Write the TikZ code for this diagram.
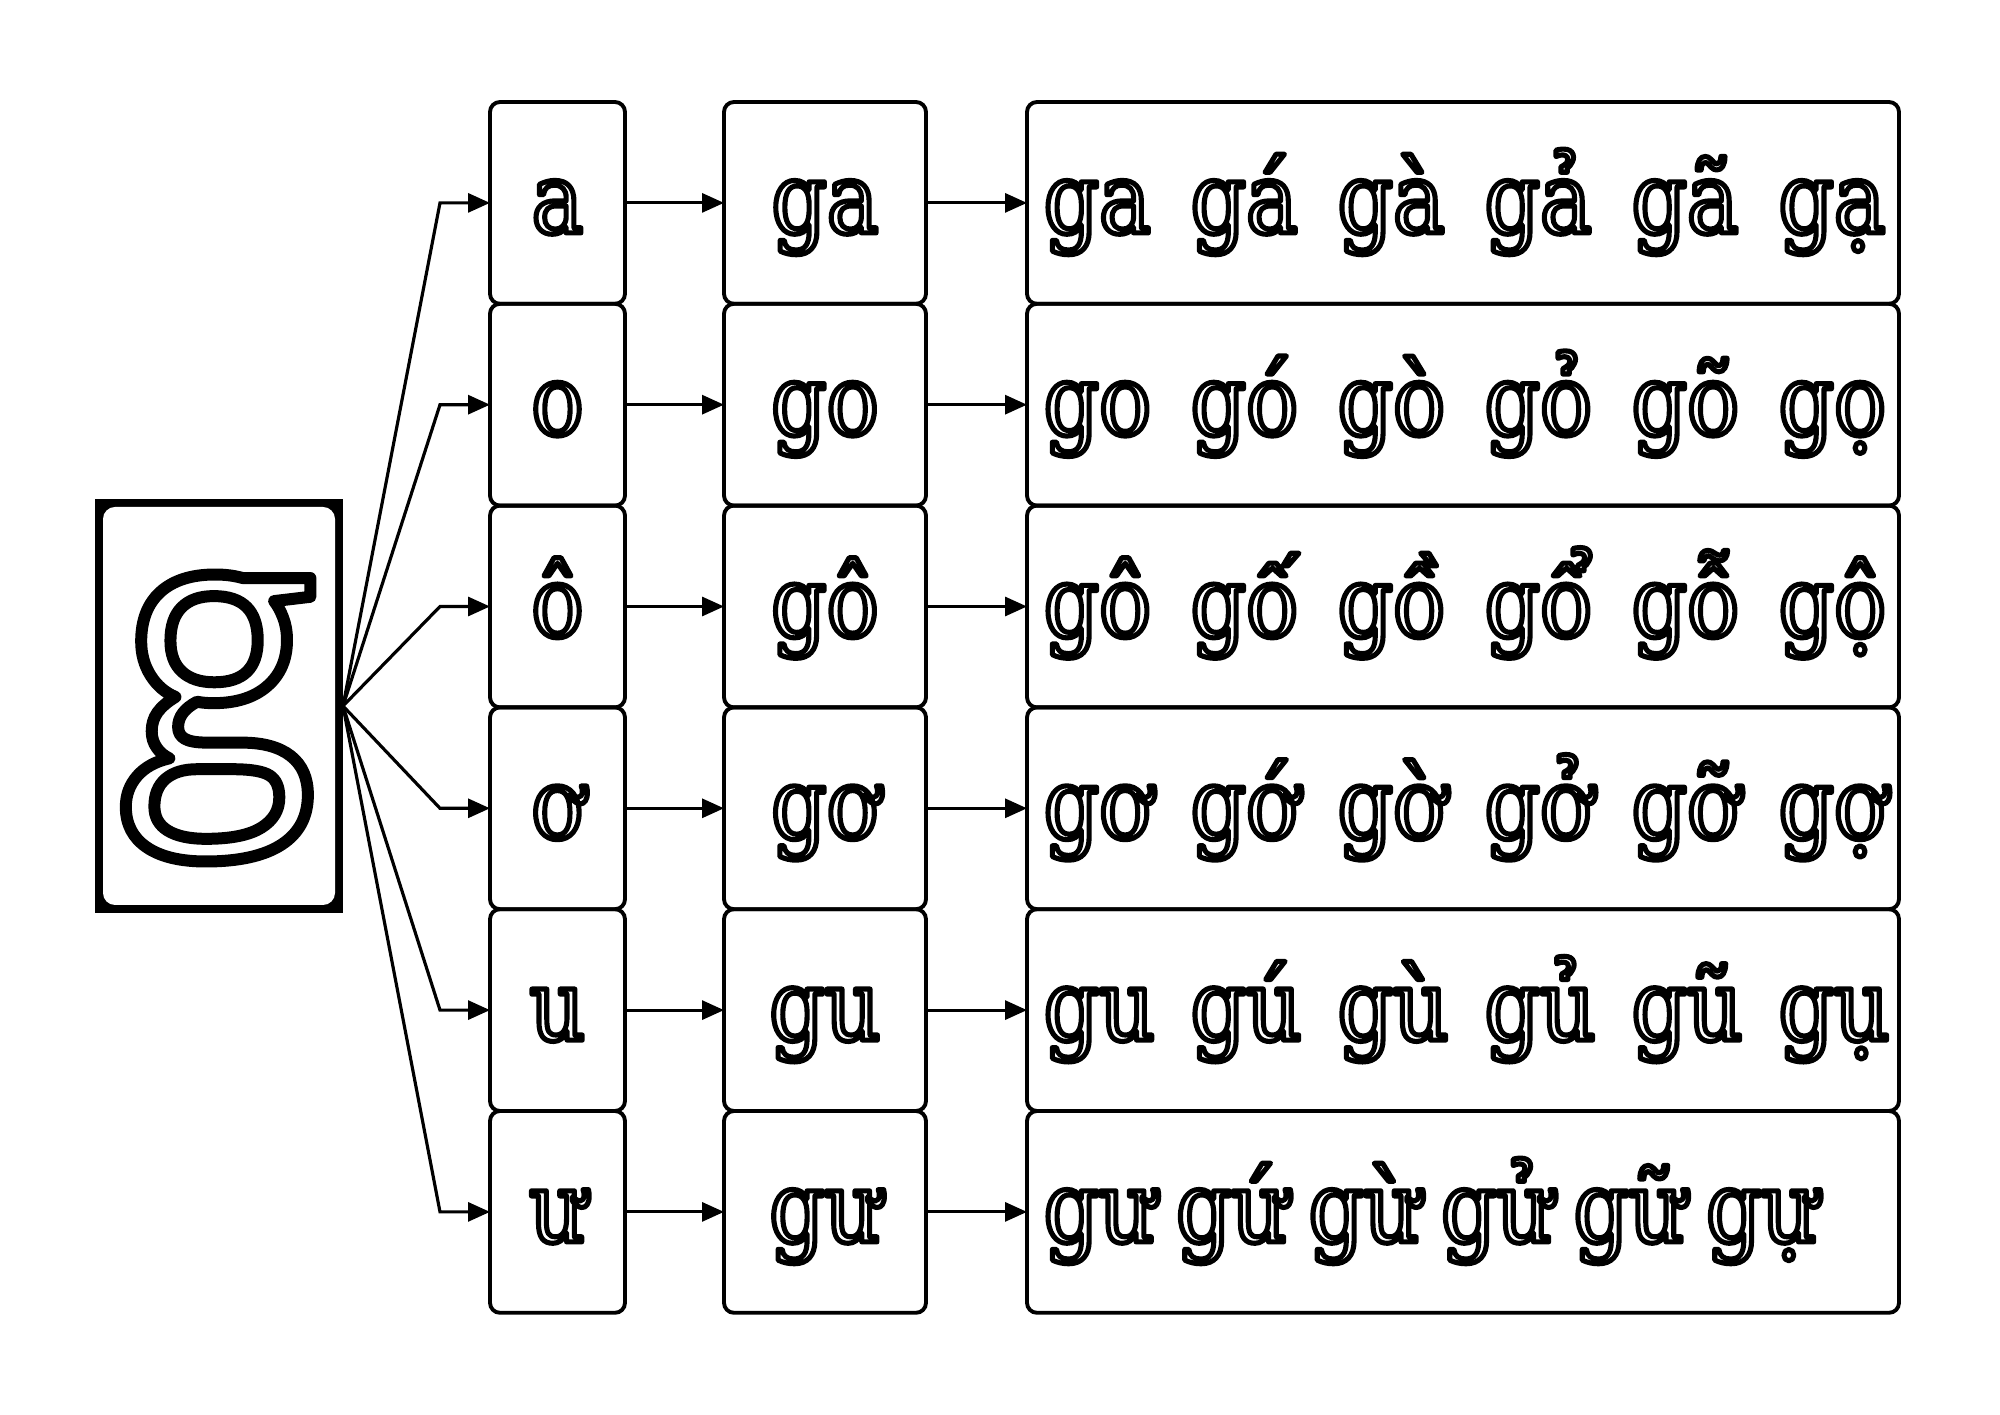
\documentclass[tikz,border=0pt]{standalone}
\usepackage{fontspec}
\setmainfont{DejaVu Serif}[FakeStretch=0.88]
\newfontfamily\gfont{Open Sans}
\usetikzlibrary{arrows.meta}
\newcommand\hollow[2][1.45]{\special{pdf:literal direct 1 J 1 j 1 Tr #1 w}#2\special{pdf:literal direct 0 Tr}}
\newcommand\sylrow[7][1.47cm]{\hollow{\makebox[#1][l]{#2}\makebox[#1][l]{#3}\makebox[#1][l]{#4}\makebox[#1][l]{#5}\makebox[#1][l]{#6}\makebox[#1][l]{#7}}}
\begin{document}
\begin{tikzpicture}[
	>={Triangle[length=2.2mm,width=1.9mm]},
	cell/.style={draw, line width=1.1pt, rounded corners=1mm, minimum height=2.018cm, inner sep=0pt, outer sep=0pt},
	conn/.style={->, line width=0.9pt},
	syl/.style={font=\fontsize{28}{30}\selectfont, inner sep=0pt}
]
	\useasboundingbox (0,0) rectangle (20,14.14);
	
	\node[fill=black, minimum width=2.48cm, minimum height=4.14cm, inner sep=0pt, outer sep=0pt] (gf) at (2.19,7.08) {};
	\node[fill=white, rounded corners=1.2mm, minimum width=2.32cm, minimum height=3.98cm, inner sep=0pt] (g) at (gf) {};
	\node[font=\gfont\fontsize{104}{110}\selectfont, inner sep=0pt] (gl) at ([yshift=-1.2mm]g.center) {\hollow[3.4]{g}};
	
	\foreach \i/\v/\s in {1/a/ga, 2/o/go, 3/ô/gô, 4/ơ/gơ, 5/u/gu, 6/ư/gư} {
		\node[cell, minimum width=1.35cm] (v\i) at (5.575,{12.111-2.018*(\i-1)}) {};
		\node[cell, minimum width=2.02cm] (c\i) at (8.25,{12.111-2.018*(\i-1)}) {};
		\node[cell, minimum width=8.72cm] (t\i) at (14.63,{12.111-2.018*(\i-1)}) {};
		\node[syl, anchor=base] (vl\i) at ([yshift=-3mm]v\i.center) {\hollow{\v}};
		\node[syl, anchor=base] (cl\i) at ([yshift=-3mm]c\i.center) {\hollow{\s}};
		\draw[conn] (gf.east) -- ([xshift=-5mm]v\i.west) -- (v\i.west);
		\draw[conn] (v\i) -- (c\i);
		\draw[conn] (c\i) -- (t\i);
	}
	
	\node[syl, anchor=base west] (w1) at ([xshift=1.6mm,yshift=-3mm]t1.west) {\sylrow{ga}{gá}{gà}{gả}{gã}{gạ}};
	\node[syl, anchor=base west] (w2) at ([xshift=1.6mm,yshift=-3mm]t2.west) {\sylrow{go}{gó}{gò}{gỏ}{gõ}{gọ}};
	\node[syl, anchor=base west] (w3) at ([xshift=1.6mm,yshift=-3mm]t3.west) {\sylrow{gô}{gố}{gồ}{gổ}{gỗ}{gộ}};
	\node[syl, anchor=base west] (w4) at ([xshift=1.6mm,yshift=-3mm]t4.west) {\sylrow{gơ}{gớ}{gờ}{gở}{gỡ}{gợ}};
	\node[syl, anchor=base west] (w5) at ([xshift=1.6mm,yshift=-3mm]t5.west) {\sylrow{gu}{gú}{gù}{gủ}{gũ}{gụ}};
	\node[syl, anchor=base west] (w6) at ([xshift=1.6mm,yshift=-3mm]t6.west) {\sylrow[1.325cm]{gư}{gứ}{gừ}{gử}{gữ}{gự}};
\end{tikzpicture}
\end{document}
